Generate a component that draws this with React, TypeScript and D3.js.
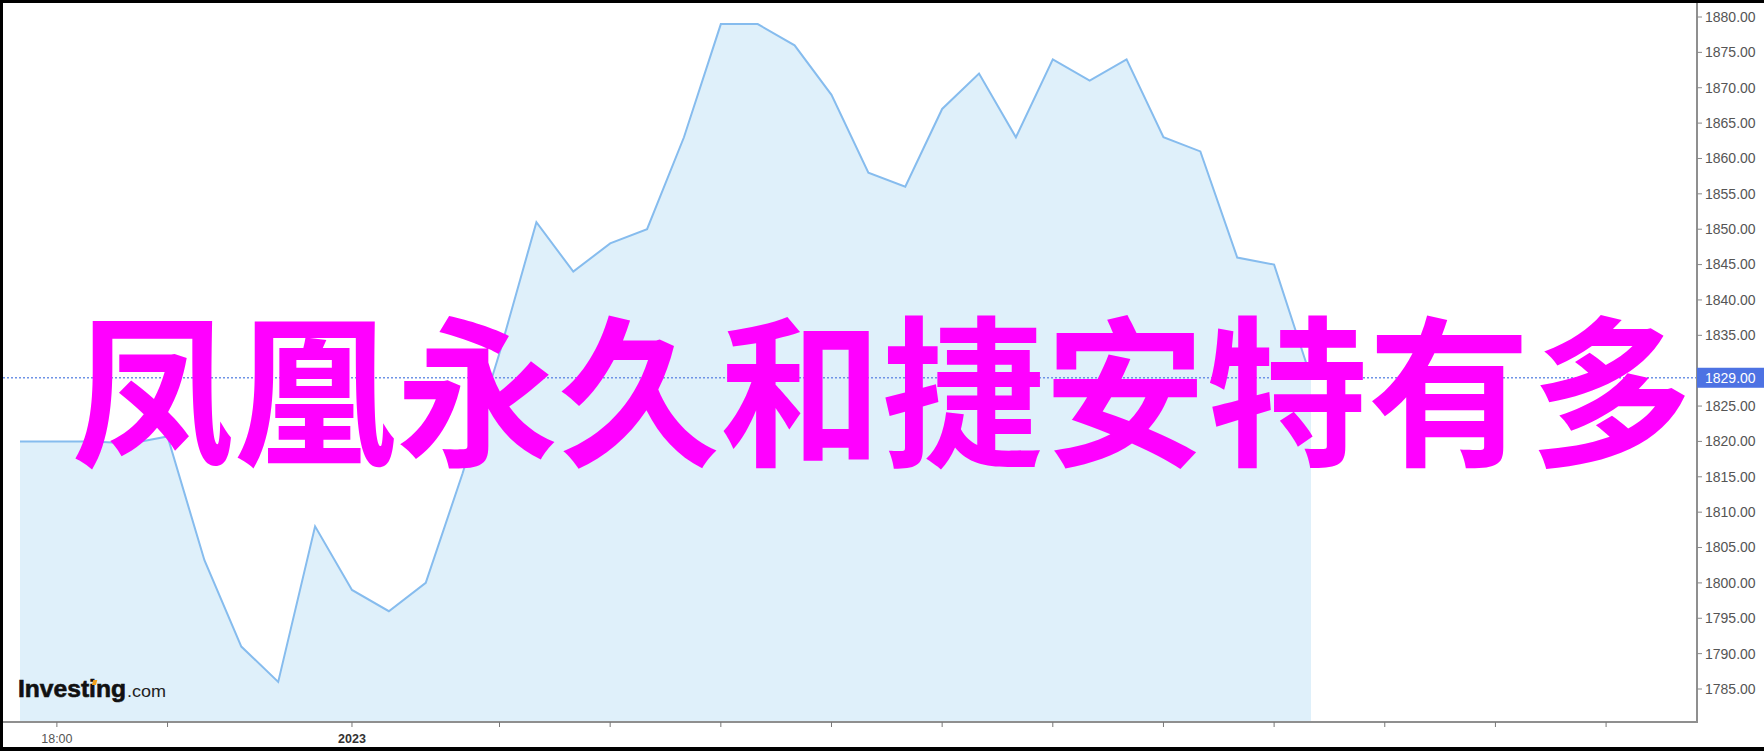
import React, { useEffect } from "react";
import * as d3 from "d3";

// ---- data ----
const prices: number[] = [
  1820, 1820, 1820, 1819.7, 1820.7, 1803.2, 1791, 1786, 1808, 1799, 1796, 1800,
  1815.5, 1832.5, 1851, 1844, 1848, 1850, 1863, 1879, 1879, 1876, 1869, 1858,
  1856, 1867, 1872, 1863, 1874, 1871, 1874, 1863, 1861, 1846, 1845, 1829,
];
const lastPrice = 1829;
const yTicks: number[] = [
  1785, 1790, 1795, 1800, 1805, 1810, 1815, 1820, 1825, 1830, 1835, 1840, 1845,
  1850, 1855, 1860, 1865, 1870, 1875, 1880,
];
// the 1830 label sits under the last-price box
const yTickHidden: number[] = [1830];
const xTickIndex: number[] = [1, 4, 9, 13, 16, 19, 22, 25, 28, 31, 34, 37, 40, 43];
const xTickLabels: string[] = ["18:00", "", "2023", "", "", "", "", "", "", "", "", "", "", ""];
const xTickBold: boolean[] = [false, false, true, false, false, false, false, false, false, false, false, false, false, false];
const overlayText = "凤凰永久和捷安特有多";

const W = 1764;
const H = 751;
const axisX = 1697;
const axisY = 722;

export default function App() {
  useEffect(() => {
    document.body.style.margin = "0";
  }, []);

  const x = d3.scaleLinear().domain([0, prices.length - 1]).range([20, 1311]);
  const y = d3.scaleLinear().domain([1785, 1880]).range([689, 17]);

  const area = d3
    .area<number>()
    .x((_, i) => x(i))
    .y0(axisY)
    .y1((d) => y(d));
  const line = d3
    .line<number>()
    .x((_, i) => x(i))
    .y((d) => y(d));

  const axisFont = "'Liberation Sans', Arial, sans-serif";

  return (
    <svg
      width={W}
      height={H}
      style={{ position: "absolute", left: 0, top: 0, background: "#fff" }}
    >
      <rect x={0} y={0} width={W} height={H} fill="#fff" />
      {/* area + line */}
      <path d={area(prices) || ""} fill="#dff0fa" />
      <path d={line(prices) || ""} fill="none" stroke="#86bcee" strokeWidth={2} />

      {/* last price dotted line */}
      <line
        x1={3}
        x2={axisX}
        y1={y(lastPrice)}
        y2={y(lastPrice)}
        stroke="#6f93e6"
        strokeWidth={1.4}
        strokeDasharray="2,2"
      />

      {/* right axis */}
      <line x1={axisX} x2={axisX} y1={3} y2={axisY + 1} stroke="#8f8f8f" strokeWidth={2} />
      {yTicks.map((t) => (
        <g key={t}>
          <line x1={axisX} x2={axisX + 5} y1={y(t)} y2={y(t)} stroke="#888" strokeWidth={1} />
          {!yTickHidden.includes(t) && (
            <text
              x={axisX + 8}
              y={y(t)}
              dy="0.35em"
              fontFamily={axisFont}
              fontSize={14}
              fill="#555"
            >
              {t.toFixed(2)}
            </text>
          )}
        </g>
      ))}

      {/* last price label */}
      <rect x={axisX} y={y(lastPrice) - 10} width={W - axisX} height={20} fill="#4d72e3" />
      <text
        x={axisX + 8}
        y={y(lastPrice)}
        dy="0.35em"
        fontFamily={axisFont}
        fontSize={14}
        fill="#fff"
      >
        {lastPrice.toFixed(2)}
      </text>

      {/* bottom axis */}
      <line x1={3} x2={axisX} y1={axisY} y2={axisY} stroke="#8f8f8f" strokeWidth={2} />
      {xTickIndex.map((t, i) => (
        <g key={t}>
          <line x1={x(t)} x2={x(t)} y1={axisY} y2={axisY + 5} stroke="#777" strokeWidth={1} />
          {xTickLabels[i] && (
            <text
              x={x(t)}
              y={743}
              textAnchor="middle"
              fontFamily={axisFont}
              fontSize={12.5}
              fontWeight={xTickBold[i] ? 700 : 400}
              fill={xTickBold[i] ? "#333" : "#555"}
            >
              {xTickLabels[i]}
            </text>
          )}
        </g>
      ))}

      {/* logo */}
      <text
        x={18}
        y={697}
        fontFamily={axisFont}
        fontSize={23}
        fontWeight={700}
        fill="#111"
        stroke="#111"
        strokeWidth={0.6}
        textLength={108}
        lengthAdjust="spacingAndGlyphs"
      >
        Investing
      </text>
      <rect x={92.5} y={680} width={4} height={5} fill="#f5a11c" transform="skewX(-15) translate(183,0)" />
      <text
        x={127}
        y={697}
        fontFamily={axisFont}
        fontSize={17}
        fill="#222"
        textLength={39}
        lengthAdjust="spacingAndGlyphs"
      >
        .com
      </text>

      {/* overlay text */}
      <text
        x={882}
        y={454}
        textAnchor="middle"
        fontFamily="'Noto Sans CJK SC', sans-serif"
        fontSize={162}
        fontWeight={700}
        fill="#ff00ff"
      >
        {overlayText}
      </text>

      {/* frame */}
      <rect x={0} y={0} width={W} height={3} fill="#000" />
      <rect x={0} y={0} width={3} height={H} fill="#000" />
      <rect x={0} y={747} width={W} height={4} fill="#000" />
    </svg>
  );
}
